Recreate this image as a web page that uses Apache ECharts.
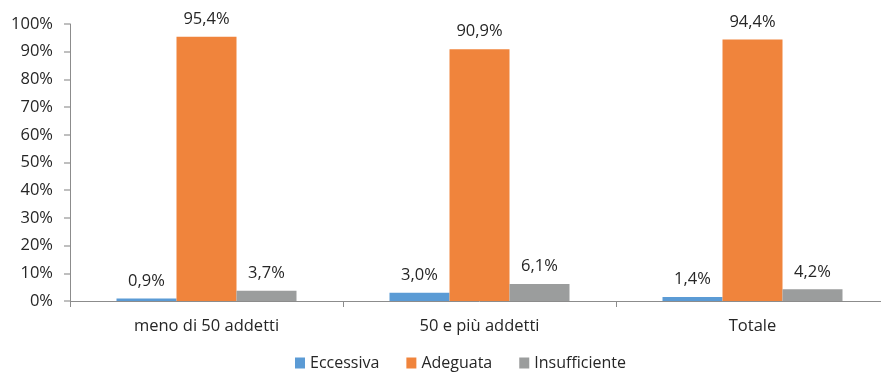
<!DOCTYPE html>
<html><head><meta charset="utf-8">
<script src="https://cdn.jsdelivr.net/npm/echarts@6/dist/echarts.min.js"></script>
<style>html,body{margin:0;padding:0;background:#fff;overflow:hidden;width:881px;height:376px}#c{width:889px;height:376px}</style>
</head><body><div id="c"></div>
<script>
const categories = ['meno di 50 addetti', '50 e più addetti', 'Totale'];
const eccessiva = [0.9, 3.0, 1.4];
const adeguata = [95.4, 90.9, 94.4];
const insufficiente = [3.7, 6.1, 4.2];
const seriesNames = ['Eccessiva', 'Adeguata', 'Insufficiente'];
const colors = ['#5B9BD5', '#F0843C', '#9B9D9D'];
const font = '"Open Sans", sans-serif';
const fmt = v => v.toFixed(1).replace('.', ',') + '%';
const chart = echarts.init(document.getElementById('c'));
const mk = (name, data, color) => ({
  name, type: 'bar', data, barWidth: 60, barGap: '0%',
  itemStyle: { color },
  label: { show: true, position: 'top', distance: 9, color: '#262626', fontFamily: font, fontSize: 16.5,
    formatter: p => fmt(p.value) }
});
chart.setOption({
  animation: false,
  grid: { left: 70, top: 24, right: 0, bottom: 75, containLabel: false },
  legend: { bottom: 0, left: 290, itemWidth: 10, itemHeight: 11, itemGap: 27, icon: 'rect',
    textStyle: { fontFamily: font, fontSize: 16, color: '#262626' }, data: seriesNames },
  xAxis: { type: 'category', data: categories,
    axisLine: { lineStyle: { color: '#8C8C8C' } },
    axisTick: { show: true, length: 6, lineStyle: { color: '#8C8C8C' } },
    axisLabel: { fontFamily: font, fontSize: 16.5, color: '#262626', margin: 17 } },
  yAxis: { type: 'value', min: 0, max: 100, interval: 10,
    axisLine: { show: true, lineStyle: { color: '#8C8C8C' } },
    axisTick: { show: true, length: 6, lineStyle: { color: '#BFBFBF', width: 2 } },
    splitLine: { show: false },
    axisLabel: { fontFamily: font, fontSize: 16.5, color: '#262626', margin: 17, formatter: v => v + '%' } },
  series: [mk(seriesNames[0], eccessiva, colors[0]), mk(seriesNames[1], adeguata, colors[1]), mk(seriesNames[2], insufficiente, colors[2])]
});
</script></body></html>
